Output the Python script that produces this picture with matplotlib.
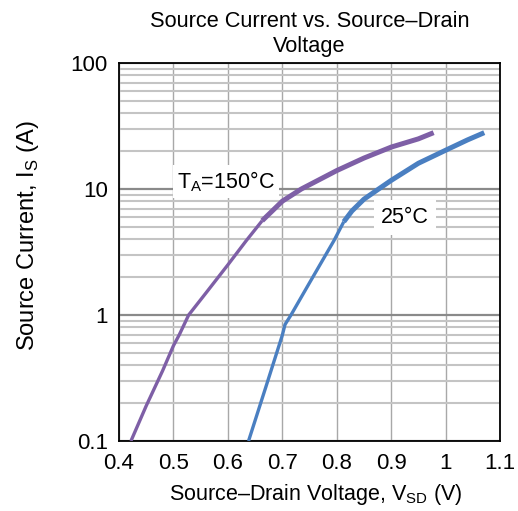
import numpy as np
import matplotlib
matplotlib.use("Agg")
import matplotlib.pyplot as plt
from matplotlib.ticker import FixedLocator, NullFormatter

plt.rcParams["font.family"] = ["Liberation Sans", "DejaVu Sans"]
plt.rcParams["mathtext.fontset"] = "custom"
plt.rcParams["mathtext.rm"] = "Liberation Sans"

# curve data (V, A)
vsd_150 = [0.422, 0.45, 0.48, 0.50, 0.511, 0.528, 0.56, 0.60, 0.634, 0.663,
           0.70, 0.735, 0.80, 0.85, 0.90, 0.95, 0.978]
is_150 = [0.1, 0.19, 0.36, 0.57, 0.70, 1.0, 1.5, 2.5, 3.9, 5.6,
          8.0, 10.0, 14.0, 17.6, 21.5, 25.0, 28.0]
kink_150 = 9

vsd_25 = [0.638, 0.67, 0.70, 0.705, 0.716, 0.75, 0.795, 0.813,
          0.828, 0.85, 0.877, 0.90, 0.95, 1.0, 1.04, 1.071]
is_25 = [0.1, 0.27, 0.69, 0.84, 1.0, 1.8, 3.9, 5.5,
         6.7, 8.3, 10.0, 11.7, 16.0, 20.3, 24.5, 28.0]
kink_25 = 7

x_ticks = [0.4, 0.5, 0.6, 0.7, 0.8, 0.9, 1.0, 1.1]
x_labels = ["0.4", "0.5", "0.6", "0.7", "0.8", "0.9", "1", "1.1"]
y_ticks = [0.1, 1, 10, 100]
y_labels = ["0.1", "1", "10", "100"]

purple = "#7E5FA6"
blue = "#4A7FC1"

fig = plt.figure(figsize=(5.18, 5.11), dpi=100)
ax = fig.add_axes([0.2297, 0.137, 0.7356, 0.7397])

ax.set_yscale("log")
ax.set_xlim(0.4, 1.1)
ax.set_ylim(0.1, 100)

# grid
ax.xaxis.set_major_locator(FixedLocator(x_ticks))
ax.set_xticklabels(x_labels)
ax.yaxis.set_major_locator(FixedLocator(y_ticks))
ax.set_yticklabels(y_labels)
minor_y = [m * 10.0 ** e for e in (-1, 0, 1) for m in range(2, 10)]
ax.yaxis.set_minor_locator(FixedLocator(minor_y))
ax.yaxis.set_minor_formatter(NullFormatter())
ax.grid(True, which="minor", axis="y", color="#c4c4c4", lw=1.5)
ax.grid(True, which="major", axis="y", color="#8a8a8a", lw=1.6)
ax.grid(True, which="major", axis="x", color="#a8a8a8", lw=1.0)
ax.set_axisbelow(True)
ax.tick_params(which="both", length=0, labelsize=16)
ax.tick_params(axis="x", pad=9)
ax.tick_params(axis="y", pad=8)
for sp in ax.spines.values():
    sp.set_linewidth(1.3)
    sp.set_color("black")

# curves: thinner below the kink, thicker above
ax.plot(vsd_150[:kink_150 + 1], is_150[:kink_150 + 1], color=purple, lw=2.4,
        solid_capstyle="butt", zorder=3)
ax.plot(vsd_150[kink_150:], is_150[kink_150:], color=purple, lw=3.6,
        solid_capstyle="butt", zorder=3)
ax.plot(vsd_25[:kink_25 + 1], is_25[:kink_25 + 1], color=blue, lw=2.4,
        solid_capstyle="butt", zorder=3)
ax.plot(vsd_25[kink_25:], is_25[kink_25:], color=blue, lw=3.6,
        solid_capstyle="butt", zorder=3)

ax.text(0.597, 11.4, r"T$_\mathregular{A}$=150°C", fontsize=15.5, ha="center",
        va="center", bbox=dict(facecolor="white", edgecolor="none", pad=3),
        zorder=4)
ax.text(0.925, 5.9, "25°C", fontsize=15.5, ha="center", va="center",
        bbox=dict(facecolor="white", edgecolor="none", pad=5), zorder=4)

ax.set_title("Source Current vs. Source\u2013Drain\nVoltage", fontsize=15.7,
             linespacing=1.25, pad=8)
ax.set_xlabel("Source\u2013Drain Voltage, V$_\\mathregular{SD}$ (V)",
              fontsize=15.5)
ax.set_ylabel(r"Source Current, I$_\mathregular{S}$ (A)", fontsize=17)
ax.xaxis.set_label_coords(0.517, -0.108)
ax.yaxis.set_label_coords(-0.205, 0.542)

fig.savefig("out.png", dpi=100)
